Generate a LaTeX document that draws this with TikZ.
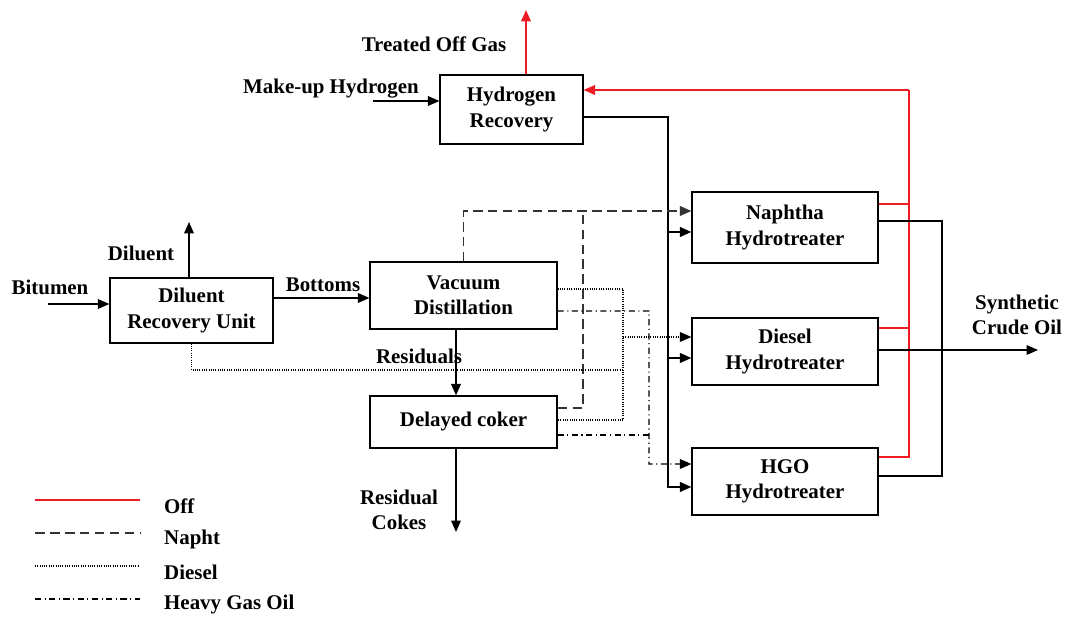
\documentclass[tikz,border=0pt]{standalone}
\usepackage{fontspec}
\setmainfont{Liberation Serif}
\usetikzlibrary{arrows.meta}
\definecolor{offred}{RGB}{237,28,36}

\begin{document}
\begin{tikzpicture}[x=0.02cm, y=-0.02cm, >={Triangle[length=6.5pt,width=5.5pt]},
  every node/.style={font=\bfseries\fontsize{11.9}{14.5}\selectfont, align=center},
  unit/.style={draw, line width=0.7pt, inner sep=0pt},
  flow/.style={line width=0.7pt},
  h2/.style={line width=1pt},
  offgas/.style={offred, line width=0.9pt},
  napht/.style={black!80, line width=0.7pt, dash pattern=on 5.5pt off 3pt},
  diesel/.style={line width=0.6pt, dash pattern=on 0.5pt off 0.8pt},
  hgo/.style={line width=0.6pt, dash pattern=on 3.5pt off 2pt on 0.6pt off 2pt}]
  \useasboundingbox (0,0) rectangle (1066,617);

  \node[unit, minimum width=2.86cm, minimum height=1.38cm] (hr) at (511.5,109.5) {Hydrogen\\Recovery};
  \node[unit, minimum width=3.26cm, minimum height=1.30cm] (dru) at (191.5,310.5) {Diluent\\Recovery Unit};
  \node[unit, minimum width=3.74cm, minimum height=1.34cm] (vd) at (463.5,295.5) {Vacuum\\Distillation};
  \node[unit, minimum width=3.74cm, minimum height=1.04cm] (dc) at (463.5,422) {Delayed coker};
  \node[unit, minimum width=3.72cm, minimum height=1.42cm] (nht) at (785,227.5) {Naphtha\\Hydrotreater};
  \node[unit, minimum width=3.72cm, minimum height=1.34cm] (dht) at (785,351.5) {Diesel\\Hydrotreater};
  \node[unit, minimum width=3.72cm, minimum height=1.34cm] (hht) at (785,481.5) {HGO\\Hydrotreater};

  \node (gaslbl) at (434,44) {Treated Off Gas};
  \node (h2lbl) at (331,89) {Make-up Hydrogen};
  \node (bitlbl) at (50,287) {Bitumen};
  \node (dillbl) at (141,253) {Diluent};
  \node (btmlbl) at (323,285) {Bottoms};
  \node (reslbl) at (419,356) {Residuals};
  \node (cokelbl) at (399,510) {Residual\\Cokes};
  \node (scolbl) at (1017,315) {Synthetic\\Crude Oil};

  % free ends and buses
  \coordinate (gasout) at (526,10);
  \coordinate (h2in) at (373,101);
  \coordinate (bitin) at (48,304);
  \coordinate (dilout) at (189,222);
  \coordinate (btm) at (320,298);
  \coordinate (coke) at (456,532);
  \coordinate (sco) at (1038,350);
  \coordinate (hbus) at (668,117);
  \coordinate (offbus) at (909,90);
  \coordinate (scobus) at (942,221);
  \coordinate (nbus) at (583,211);
  \coordinate (dbus) at (623,370);
  \coordinate (gbus) at (649,464);

  \coordinate (hin1) at ([yshift=-0.09cm]nht.west);
  \coordinate (hin2) at ([yshift=-0.13cm]dht.west);
  \coordinate (hin3) at ([yshift=-0.11cm]hht.west);
  \coordinate (nin) at ([yshift=0.33cm]nht.west);
  \coordinate (din) at ([yshift=0.29cm]dht.west);
  \coordinate (gin) at ([yshift=0.35cm]hht.west);
  \coordinate (o1) at ([yshift=0.47cm]nht.east);
  \coordinate (o2) at ([yshift=0.47cm]dht.east);
  \coordinate (o3) at ([yshift=0.49cm]hht.east);
  \coordinate (p1) at ([yshift=0.13cm]nht.east);
  \coordinate (p3) at ([yshift=0.11cm]hht.east);

  \draw[offgas,->] (gasout |- hr.north) -- (gasout);
  \draw[flow,->] (h2in) -- (h2in -| hr.west);
  \draw[flow,->] (bitin) -- (bitin -| dru.west);
  \draw[flow,->] (dilout |- dru.north) -- (dilout);
  \draw[flow,->] (btm -| dru.east) -- (btm -| vd.west);
  \draw[flow,->] ([xshift=-0.15cm]vd.south) -- ([xshift=-0.15cm]dc.north);
  \draw[flow,->] (coke |- dc.south) -- (coke);

  \draw[h2,->] (hr.east |- hbus) -| (hbus |- hin3) -- (hin3);
  \draw[h2,->] (hbus |- hin1) -- (hin1);
  \draw[h2,->] (hbus |- hin2) -- (hin2);

  \draw[offgas,->] (offbus) -- (offbus -| hr.east);
  \draw[offgas] (o3) -| (offbus);
  \draw[offgas] (o1) -- (o1 -| offbus);
  \draw[offgas] (o2) -- (o2 -| offbus);

  \draw[h2] (p1) -| (scobus |- p3) -- (p3);
  \draw[flow,->] (dht.east |- sco) -- (sco);

  \draw[napht,->] (vd.north) |- (nin);
  \draw[napht] ([yshift=0.28cm]dc.east) -| (nbus);
  \draw[diesel] ([yshift=0.13cm]vd.east) -| ([yshift=0.04cm]dc.east -| dbus) -- ([yshift=0.04cm]dc.east);
  \draw[diesel,->] (din -| dbus) -- (din);
  \draw[diesel] (dru.south) |- (dbus);
  \draw[hgo,->] ([yshift=-0.31cm]vd.east) -| (gbus) -- (gin);
  \draw[hgo] ([yshift=-0.26cm]dc.east) -- ([yshift=-0.26cm]dc.east -| gbus);

  \foreach \sty/\name [count=\i] in {offgas/Off, napht/Napht, diesel/Diesel, hgo/Heavy Gas Oil}
  { \draw[\sty] (35,467+33*\i) -- (140,467+33*\i);
    \node[anchor=west] (leg\i) at (158,473+33*\i) {\name}; }
\end{tikzpicture}
\end{document}
